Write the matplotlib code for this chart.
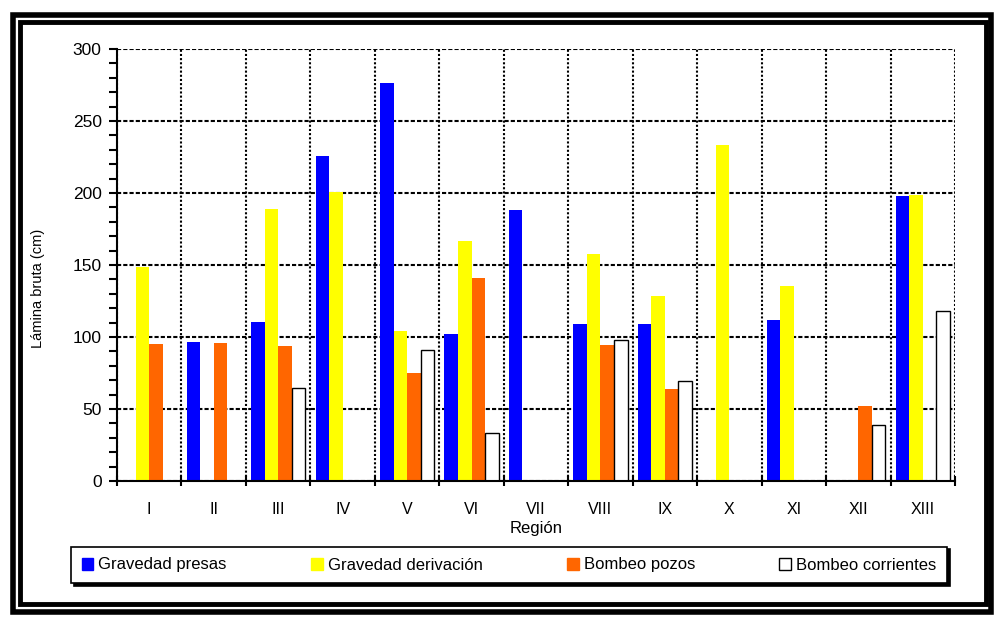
import numpy as np
import matplotlib
matplotlib.use('Agg')
import matplotlib.pyplot as plt
from matplotlib.patches import Rectangle

plt.rcParams['font.family'] = ['Liberation Sans', 'DejaVu Sans']

# Datos (lamina bruta en cm por region)
regiones = ['I', 'II', 'III', 'IV', 'V', 'VI', 'VII', 'VIII', 'IX', 'X', 'XI', 'XII', 'XIII']
gravedad_presas = [np.nan, 96.5, 110.5, 225.7, 276.5, 102.0, 188.2, 109.0, 109.0, np.nan, 111.8, np.nan, 198.0]
gravedad_derivacion = [148.6, np.nan, 189.0, 200.7, 104.2, 166.7, np.nan, 157.6, 128.5, 233.3, 135.4, np.nan, 198.6]
bombeo_pozos = [95.1, 95.8, 93.8, np.nan, 75.0, 141.0, np.nan, 94.4, 63.9, np.nan, np.nan, 52.0, np.nan]
bombeo_corrientes = [np.nan, np.nan, 64.4, np.nan, 90.7, 33.6, np.nan, 97.7, 69.2, np.nan, np.nan, 39.1, 117.8]

series = [
    ('Gravedad presas', gravedad_presas, '#0000FF', '#0000FF'),
    ('Gravedad derivación', gravedad_derivacion, '#FFFF00', '#FFFF00'),
    ('Bombeo pozos', bombeo_pozos, '#FF6600', '#FF6600'),
    ('Bombeo corrientes', bombeo_corrientes, '#FFFFFF', '#000000'),
]

W, H = 994, 617
fig = plt.figure(figsize=(W / 100, H / 100), dpi=100)
ax = fig.add_axes([117 / W, 1 - 481 / H, (955 - 117) / W, (481 - 49) / H])

x = np.arange(len(regiones))
ancho = 0.21
for i, (nombre, vals, color, borde) in enumerate(series):
    lw = 1.0 if color == '#FFFFFF' else 0
    ax.bar(x + (i - 1.5) * ancho, np.array(vals, dtype=float), ancho,
           color=color, edgecolor=borde, linewidth=lw, label=nombre, zorder=3)

ax.set_xlim(-0.5, len(regiones) - 0.5)
ax.set_ylim(0, 300)

# ticks de x en los limites de cada region, etiquetas al centro
ax.set_xticks(np.arange(len(regiones) + 1) - 0.5)
ax.set_xticklabels([])
ax.set_xticks(x, minor=True)
ax.set_xticklabels(regiones, minor=True, fontsize=11.5)
ax.tick_params(axis='x', which='major', direction='inout', length=7, width=1.5)
ax.tick_params(axis='x', which='minor', length=0, pad=15)

ax.set_yticks(np.arange(0, 301, 50))
ax.set_yticks(np.arange(0, 301, 10), minor=True)
ax.tick_params(axis='y', which='major', direction='out', length=6, width=1.5, labelsize=12.5, pad=5)
ax.tick_params(axis='y', which='minor', direction='out', length=6, width=1.5)

ax.grid(axis='y', which='major', color='black', linewidth=1.5, linestyle=(0, (2, 1)), zorder=1)
ax.grid(axis='x', which='major', color='black', linewidth=1.5, linestyle=(0, (1, 1)), zorder=1)
ax.set_axisbelow(True)

for s in ['top', 'right']:
    ax.spines[s].set_visible(False)
for s in ['left', 'bottom']:
    ax.spines[s].set_linewidth(1.5)
    ax.spines[s].set_zorder(4)

ax.set_ylabel('Lámina bruta (cm)', fontsize=10.5)
ax.yaxis.set_label_coords(-0.086, 0.447)
ax.set_xlabel('Región', fontsize=12)
ax.xaxis.set_label_coords(0.5, -0.092)

leg = fig.legend(loc='center', ncol=4, mode='expand',
                 bbox_to_anchor=(71 / W, 1 - 585 / H, 876 / W, 40 / H),
                 bbox_transform=fig.transFigure, borderaxespad=0,
                 fontsize=12, handlelength=0.7, handleheight=0.7, handletextpad=0.3,
                 borderpad=0.65, fancybox=False, edgecolor='black',
                 shadow={'color': 'black', 'alpha': 1})
leg.get_frame().set_linewidth(1.2)
for h in leg.legend_handles:
    h.set_linewidth(1.0)

# marco doble alrededor del grafico
def marco(x0, y0, x1, y1, lw):
    fig.patches.append(Rectangle((x0 / W, 1 - y1 / H), (x1 - x0) / W, (y1 - y0) / H,
                                 transform=fig.transFigure, fill=False,
                                 edgecolor='black', linewidth=lw))

marco(12.5, 14.5, 991, 612, 4)
marco(19.5, 21.5, 986, 603.5, 3.5)

fig.savefig('out.png', dpi=100)
